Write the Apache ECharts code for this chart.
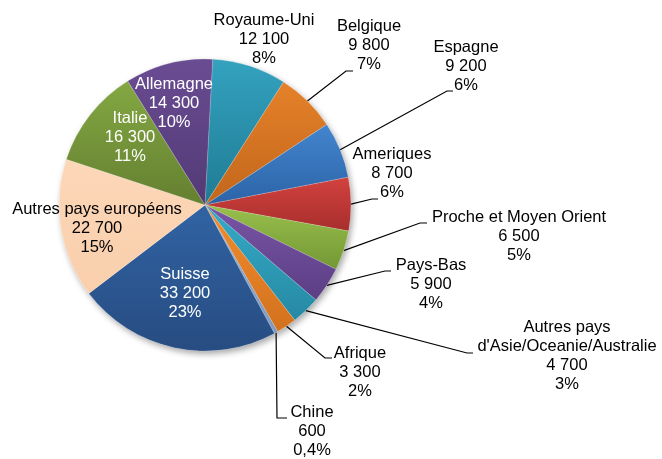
<!DOCTYPE html>
<html>
<head>
<meta charset="utf-8">
<script src="https://cdn.jsdelivr.net/npm/echarts@6/dist/echarts.min.js"></script>
<style>
  html, body { margin: 0; padding: 0; background: #fff; }
  #main { width: 662px; height: 459px; }
</style>
</head>
<body>
<div id="main"></div>
<script>
var countries = ['Royaume-Uni', 'Belgique', 'Espagne', 'Ameriques', 'Proche et Moyen Orient',
  'Pays-Bas', "Autres pays\nd'Asie/Oceanie/Australie", 'Afrique', 'Chine', 'Suisse',
  'Autres pays européens', 'Italie', 'Allemagne'];
var visitors = [12100, 9800, 9200, 8700, 6500, 5900, 4700, 3300, 600, 33200, 22700, 16300, 14300];
var shares = ['8%', '7%', '6%', '6%', '5%', '4%', '3%', '2%', '0,4%', '23%', '15%', '11%', '10%'];

// dégradé haut / bas de chaque part
var colors = [
  ['#34a2bf', '#1f7b94'], ['#e5812a', '#c2661b'], ['#4385ce', '#2c63a6'],
  ['#d2423f', '#a72e2c'], ['#98c04c', '#739735'], ['#7955a6', '#5b3e84'],
  ['#35abc8', '#2689a3'], ['#f38d2d', '#d2711e'], ['#93acd0', '#8099bd'],
  ['#3163a3', '#274c81'], ['#fcd7b8', '#f9cfac'], ['#84a843', '#647f30'],
  ['#6a4c93', '#523a75']
];
var whiteText = [false, false, false, false, false, false, false, false, false, true, false, true, true];
var noLine = [true, false, false, false, false, false, false, false, false, true, true, true, true];

// position des étiquettes (centre x, haut y) et coude des traits de rappel
var labelPos = [[264, 11], [369, 17], [466, 38], [392, 145], [519, 208], [431, 256],
  [567, 318], [360, 344], [312, 403], [185, 265], [97, 200], [130, 109], [174, 75]];
var elbows = [null, [346, 71, 353], [447, 91, 453], [372, 199, 378], [420, 223, 427],
  [385, 271, 391], [467, 353, 473], [325, 358, 332], [277, 418, 287], null, null, null, null];

function fmt(v) {
  return String(v).replace(/\B(?=(\d{3})+(?!\d))/g, ' ');
}

var data = visitors.map(function (v, i) {
  return {
    name: countries[i],
    value: v,
    itemStyle: {
      color: {
        type: 'linear', x: 0, y: 0, x2: 0, y2: 1,
        colorStops: [{offset: 0, color: colors[i][0]}, {offset: 1, color: colors[i][1]}]
      }
    },
    label: {color: whiteText[i] ? '#fff' : '#000'},
    labelLine: {show: !noLine[i]}
  };
});

var myChart = echarts.init(document.getElementById('main'));

var option = {
  animation: false,
  series: [
    {
      // ombre portée sous le camembert
      type: 'pie',
      center: [205, 205],
      radius: 146,
      startAngle: 87,
      silent: true,
      z: 1,
      label: {show: false},
      labelLine: {show: false},
      itemStyle: {
        color: '#fff',
        shadowBlur: 6,
        shadowOffsetX: 2,
        shadowOffsetY: 3,
        shadowColor: 'rgba(0,0,0,0.35)'
      },
      data: visitors.map(function (v) { return {value: v}; })
    },
    {
      type: 'pie',
      center: [205, 205],
      radius: 146,
      startAngle: 87,
      z: 2,
      avoidLabelOverlap: false,
      emphasis: {disabled: true},
      itemStyle: {
        borderColor: 'rgba(255,255,255,0.35)',
        borderWidth: 0.5
      },
      label: {
        show: true,
        position: 'outside',
        fontFamily: '"Liberation Sans", Arial, sans-serif',
        fontSize: 16.5,
        lineHeight: 19,
        align: 'center',
        formatter: function (p) {
          return p.name + '\n' + fmt(p.value) + '\n' + shares[p.dataIndex];
        }
      },
      labelLine: {
        show: true,
        lineStyle: {color: '#000', width: 1.2}
      },
      labelLayout: function (p) {
        var i = p.dataIndex;
        var out = {x: labelPos[i][0], y: labelPos[i][1], align: 'center', verticalAlign: 'top'};
        var e = elbows[i];
        if (e && p.labelLinePoints) {
          out.labelLinePoints = [p.labelLinePoints[0], [e[0], e[1]], [e[2], e[1]]];
        }
        return out;
      },
      data: data
    }
  ]
};

myChart.setOption(option);
</script>
</body>
</html>
